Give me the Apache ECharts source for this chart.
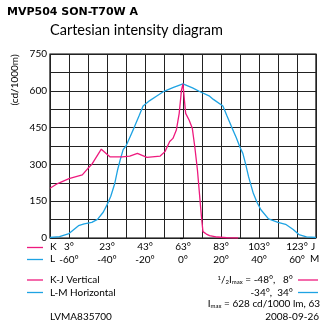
<!DOCTYPE html>
<html>
<head>
<meta charset="utf-8">
<script src="https://cdn.jsdelivr.net/npm/echarts@6/dist/echarts.min.js"></script>
<style>
  html, body { margin: 0; padding: 0; background: #fff; }
  #chart { width: 320px; height: 329px; }
</style>
</head>
<body>
<div id="chart"></div>
<script>
// K-J vertical plane (angle along the L-M scale, cd/1000 lm)
var kjAngles = [-70, -66, -60, -53, -50, -48, -43, -38.5, -32, -28, -24, -19, -12, -9.5, -7, -5.3, -3.5, -2, -0.8, 0, 0.5, 1.4, 3.2, 4.9, 6.2, 7.6, 8.8, 9.7, 10.5, 12.3, 14, 18, 23, 29];
var kjValues = [203, 222, 242, 257, 284, 300, 362, 331, 331, 334, 345, 329, 334, 352, 393, 406, 440, 508, 603, 628, 583, 508, 481, 447, 372, 277, 168, 87, 26, 16, 10, 4, 1, 0];

// L-M horizontal plane
var lmAngles = [-70, -65, -60, -55, -52, -48, -45, -42, -40, -38, -36, -34.5, -33, -31.5, -30, -28, -25.5, -23, -21, -17.5, -14, -10, -5, 0, 5, 9, 14, 16, 21, 23, 25.5, 28, 30, 31.5, 33, 34.5, 37, 39, 41, 45, 50, 54, 58, 61, 65, 70];
var lmValues = [2, 6, 18, 50, 58, 64, 76, 105, 135, 170, 220, 275, 320, 360, 375, 410, 454, 500, 538, 560, 578, 598, 614, 628, 612, 596, 578, 565, 538, 500, 454, 410, 370, 345, 300, 250, 182, 145, 115, 78, 64, 56, 35, 14, 5, 2];

// Tick labels: upper row K-J angles, lower row L-M angles
var tickAngles = [-60, -40, -20, 0, 20, 40, 60];
var kLabels = ['3°', '23°', '43°', '63°', '83°', '103°', '123°'];
var lLabels = ['-60°', '-40°', '-20°', '0°', '20°', '40°', '60°'];

var PINK = '#ee1a7e';
var BLUE = '#1ea3e3';
var FONT = 'Lato';

function pairs(xs, ys) {
  return xs.map(function (x, i) { return [x, ys[i]]; });
}

var chart = echarts.init(document.getElementById('chart'), null, { renderer: 'canvas' });

var textStyle = { fontFamily: FONT, fontSize: 10, fill: '#000' };

chart.setOption({
  animation: false,
  backgroundColor: '#fff',
  textStyle: { fontFamily: FONT },
  grid: {
    left: 50, top: 54, width: 266, height: 184,
    show: true, borderColor: '#000', borderWidth: 1.2, backgroundColor: 'transparent'
  },
  xAxis: {
    type: 'value', min: -70, max: 70, interval: 10,
    axisLine: { show: false },
    axisTick: { show: false },
    splitLine: { show: true, lineStyle: { color: '#222', width: 1 } },
    axisLabel: {
      margin: 3,
      fontFamily: FONT, fontSize: 10, color: '#000', lineHeight: 12.5,
      showMinLabel: true, showMaxLabel: true,
      formatter: function (v) {
        var i = tickAngles.indexOf(v);
        return i < 0 ? '' : kLabels[i] + '\n' + lLabels[i];
      }
    }
  },
  yAxis: {
    type: 'value', min: 0, max: 750, interval: 150,
    axisLine: { show: false },
    axisTick: { show: true, length: 3, inside: false, lineStyle: { color: '#000', width: 1.2 } },
    splitLine: { show: true, lineStyle: { color: '#222', width: 1 } },
    minorTick: { show: false, splitNumber: 2 },
    minorSplitLine: { show: true, lineStyle: { color: '#222', width: 1 } },
    axisLabel: { margin: 3, fontFamily: FONT, fontSize: 10, color: '#000' }
  },
  series: [
    {
      name: 'K-J Vertical', type: 'line', data: pairs(kjAngles, kjValues),
      symbol: 'none', lineStyle: { color: PINK, width: 1.3 }, z: 3
    },
    {
      name: 'L-M Horizontal', type: 'line', data: pairs(lmAngles, lmValues),
      symbol: 'none', lineStyle: { color: BLUE, width: 1.3 }, z: 2
    }
  ],
  graphic: [
    { type: 'text', left: 7, top: 7, style: { text: 'MVP504 SON-T70W A', fontFamily: 'DejaVu Sans', fontWeight: 'bold', fontSize: 11, fill: '#000' } },
    { type: 'text', left: 50, top: 23, style: { text: 'Cartesian intensity diagram', fontFamily: FONT, fontSize: 14.5, fill: '#000' } },
    { type: 'text', x: 15, y: 80, rotation: Math.PI / 2, style: { text: '(cd/1000m)', fontFamily: FONT, fontSize: 10, fill: '#000', align: 'center', verticalAlign: 'middle' } },

    // axis row keys
    { type: 'line', shape: { x1: 27, y1: 247.5, x2: 43, y2: 247.5 }, style: { stroke: PINK, lineWidth: 1.3 } },
    { type: 'line', shape: { x1: 27, y1: 259.5, x2: 43, y2: 259.5 }, style: { stroke: BLUE, lineWidth: 1.3 } },
    { type: 'text', x: 50, y: 247, style: Object.assign({ text: 'K', verticalAlign: 'middle' }, textStyle) },
    { type: 'text', x: 50, y: 259, style: Object.assign({ text: 'L', verticalAlign: 'middle' }, textStyle) },
    { type: 'text', x: 311, y: 247, style: Object.assign({ text: 'J', verticalAlign: 'middle' }, textStyle) },
    { type: 'text', x: 310, y: 259, style: Object.assign({ text: 'M', verticalAlign: 'middle' }, textStyle) },

    // legend
    { type: 'line', shape: { x1: 27, y1: 280, x2: 43, y2: 280 }, style: { stroke: PINK, lineWidth: 1.3 } },
    { type: 'line', shape: { x1: 27, y1: 292.5, x2: 43, y2: 292.5 }, style: { stroke: BLUE, lineWidth: 1.3 } },
    { type: 'text', x: 50, y: 280, style: Object.assign({ text: 'K-J Vertical', verticalAlign: 'middle' }, textStyle) },
    { type: 'text', x: 50, y: 292.5, style: Object.assign({ text: 'L-M Horizontal', verticalAlign: 'middle' }, textStyle) },
    { type: 'line', shape: { x1: 298, y1: 280, x2: 318, y2: 280 }, style: { stroke: PINK, lineWidth: 1.3 } },
    { type: 'line', shape: { x1: 298, y1: 292.5, x2: 318, y2: 292.5 }, style: { stroke: BLUE, lineWidth: 1.3 } },
    {
      type: 'text', x: 293, y: 280,
      style: {
        text: '{sup|1}/{sub|2}I{sub|max} = -48°,   8°',
        fontFamily: FONT, fontSize: 10, fill: '#000', align: 'right', verticalAlign: 'middle',
        rich: {
          sup: { fontFamily: FONT, fontSize: 6, verticalAlign: 'top', lineHeight: 10 },
          sub: { fontFamily: FONT, fontSize: 6, verticalAlign: 'bottom', lineHeight: 10 }
        }
      }
    },
    { type: 'text', x: 293, y: 292.5, style: Object.assign({ text: '-34°,  34°', align: 'right', verticalAlign: 'middle' }, textStyle) },
    {
      type: 'text', x: 320, y: 304,
      style: {
        text: 'I{sub|max} = 628 cd/1000 lm, 63',
        fontFamily: FONT, fontSize: 10, fill: '#000', align: 'right', verticalAlign: 'middle',
        rich: { sub: { fontFamily: FONT, fontSize: 6, verticalAlign: 'bottom', lineHeight: 10 } }
      }
    },
    { type: 'text', x: 50, y: 317, style: Object.assign({ text: 'LVMA835700', verticalAlign: 'middle' }, textStyle) },
    { type: 'text', x: 319, y: 317, style: Object.assign({ text: '2008-09-26', align: 'right', verticalAlign: 'middle' }, textStyle) }
  ]
});
</script>
</body>
</html>
